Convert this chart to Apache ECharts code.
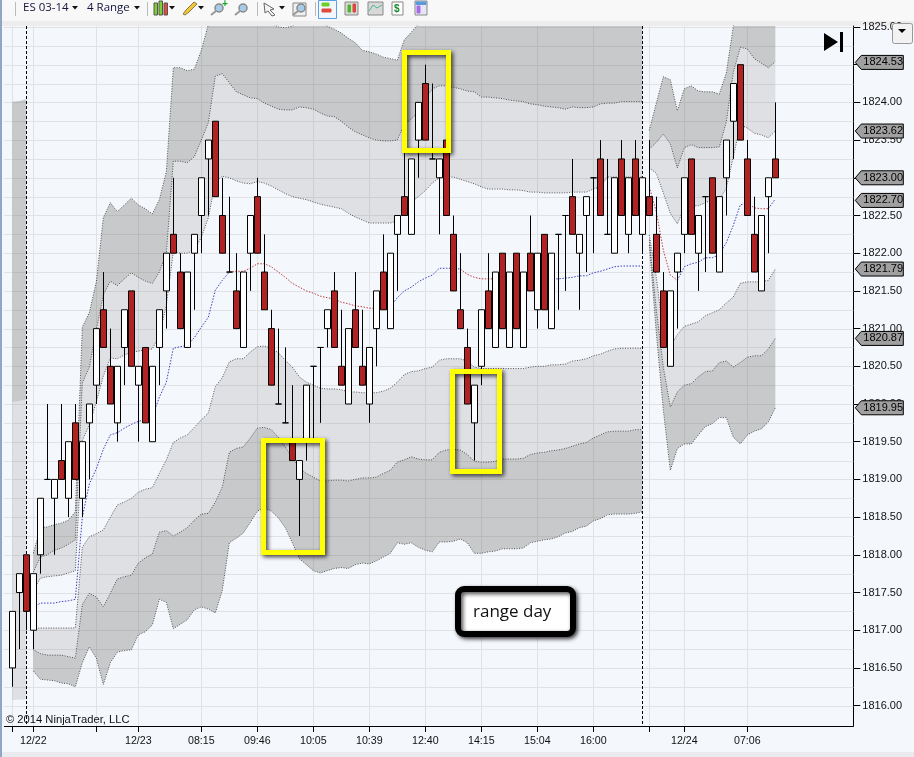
<!DOCTYPE html>
<html>
<head>
<meta charset="utf-8">
<style>html,body{margin:0;padding:0;background:#f4f7fc;overflow:hidden}#c{width:914px;height:757px}</style>
<script src="https://cdn.jsdelivr.net/npm/echarts@6/dist/echarts.min.js"></script>
</head>
<body>
<div id="c"></div>
<script>
// Candles, index = bar number
const opens = [1816.5,1817.5,1818,1817,1818,1819,1818.75,1819.25,1818.75,1819.75,
1818.75,1819.75,1820.25,1821.25,1820.5,1819.75,1820.75,1821.5,1820.25,1820.75,
1819.5,1820.75,1821.5,1822.25,1821.75,1820.75,1822,1822.5,1823.25,1823.75,
1822.5,1821.75,1821.5,1820.75,1822,1822.75,1821.75,1821,1820,1819.75,
1819.5,1819,1819.5,1820.5,1820.75,1821,1821.5,1820.5,1820,1821.25,
1820.5,1820,1821,1821.75,1821,1822.25,1822.75,1822.25,1823.5,1824.25,
1823.25,1823,1823.5,1822.25,1821.25,1820.75,1819.75,1820.5,1821.5,1820.75,
1822,1820.75,1822,1820.75,1822,1821.25,1822.25,1821,1822.25,1822.5,
1822.75,1822,1822.5,1823,1823.25,1822.25,1822,1823.25,1822.25,1823.25,
1822.25,1822.75,1822.25,1821.5,1820.5,1821.75,1822.25,1823.25,1822,1822.75,
1823,1821.75,1823,1823.75,1824.5,1823.25,1822.25,1821.5,1822.75,1823.25];
const closes = [1817.25,1817.75,1817.25,1817.75,1818.75,1819,1819,1819,1819.5,1819,
1819.5,1820,1821,1820.75,1820,1820.5,1821.25,1820.5,1820.5,1819.75,
1820.5,1821.25,1822,1822,1821,1821.75,1822.25,1823,1823.5,1822.75,
1822,1821.75,1821,1821.75,1822.5,1822,1821.25,1820.25,1820,1819.75,
1819.25,1819.25,1820.25,1820.5,1820.75,1821.25,1820.75,1820.25,1821,1820.75,
1820.25,1820.75,1821.5,1821.25,1822,1822.5,1822.5,1823.25,1824,1823.5,
1823.25,1823.25,1822.5,1821.5,1821,1820,1820.25,1821.25,1821,1821.75,
1821,1821.75,1821,1821.75,1821.5,1822,1821.25,1822,1822.25,1822.5,
1822.25,1822.25,1822.75,1823,1822.5,1822.25,1823,1822.5,1823,1822.5,
1823,1822.5,1821.75,1820.75,1821.5,1822,1823,1822.25,1822.5,1822.75,
1822,1822.75,1823.5,1824.25,1823.5,1822.5,1821.75,1822.5,1823,1823];
const lows = [1816.25,1816.75,1817,1816.75,1817.75,1819,1818,1819,1818.5,1819,
1818.5,1819,1820,1820.75,1820,1819.5,1820.25,1820.5,1819.5,1819.75,
1819.5,1820.25,1821,1822,1821,1820.75,1821.25,1822,1822.5,1822.75,
1822,1821.75,1821,1820.75,1821.5,1822,1821.25,1820.25,1820,1819.75,
1819.25,1818.25,1819.25,1819.5,1819.75,1820.75,1820.75,1820.25,1820,1820.75,
1820.25,1819.75,1820.5,1821.25,1821,1821.5,1822.5,1822.25,1823,1823.5,
1823.25,1822.25,1822.5,1821.5,1821,1820,1819.25,1820.25,1821,1820.75,
1821,1820.75,1821,1820.75,1821.5,1821,1821.25,1821,1821.25,1821.5,
1822.25,1821.25,1821.75,1822,1822.5,1822.25,1822,1822.5,1822,1822.5,
1822,1822.5,1821.75,1820.75,1820.5,1821,1822,1822.25,1821.5,1821.75,
1822,1821.75,1822.5,1823.25,1823.5,1822.5,1821.75,1821.5,1822,1823];
const highs = [1817.25,1817.75,1818,1817.75,1818.75,1820,1819,1820,1819.5,1820,
1819.5,1820,1821,1821.75,1821,1820.5,1821.25,1821.5,1820.5,1820.75,
1820.5,1821.25,1822,1823,1822,1821.75,1822.25,1823,1823.5,1823.75,
1823,1822.75,1822,1821.75,1822.5,1823,1822.25,1821.25,1821,1820.75,
1820.25,1819.25,1820.25,1820.5,1820.75,1821.25,1821.75,1821.25,1821,1821.75,
1821.25,1820.75,1821.5,1822.25,1822,1822.5,1823.5,1823.25,1824,1824.5,
1824.25,1823.25,1823.5,1822.5,1822,1821,1820.25,1821.25,1822,1821.75,
1822,1821.75,1822,1821.75,1822.5,1822,1822.25,1822,1822.25,1822.5,
1823.25,1822.25,1822.75,1823,1823.5,1823.25,1823,1823.5,1823,1823.5,
1823,1823.5,1822.75,1821.75,1821.5,1822,1823,1823.25,1822.5,1822.75,
1823,1822.75,1823.5,1824.25,1824.5,1823.5,1822.75,1822.5,1823,1824];

// Envelope curves, same index. Sessions are bars 0-2, 3-90, 91-109.
const outerTop = [1824.01,1824.02,1824.04,1818.02,1818.36,1818.37,1818.40,1818.42,1818.46,1818.57,
1821.02,1821.21,1821.62,1822.47,1822.67,1822.55,1822.64,1822.73,1822.64,1822.59,
1822.52,1822.71,1823.08,1824.46,1824.46,1824.42,1824.44,1824.69,1825.03,1825.50,
1825.60,1825.55,1825.45,1825.40,1825.35,1825.30,1825.20,1825.05,1825.00,1824.99,
1825.01,1825.08,1825.10,1825.10,1825.08,1825.01,1824.97,1824.92,1824.85,1824.79,
1824.69,1824.67,1824.64,1824.60,1824.58,1824.56,1824.83,1824.93,1825.04,1825.25,
1825.40,1825.50,1825.50,1825.50,1825.48,1825.46,1825.45,1825.42,1825.42,1825.41,
1825.40,1825.39,1825.38,1825.37,1825.35,1825.34,1825.33,1825.32,1825.31,1825.30,
1825.32,1825.31,1825.31,1825.32,1825.35,1825.36,1825.36,1825.38,1825.38,1825.38,
1825.38,1823.63,1823.99,1824.34,1824.30,1823.89,1824.18,1824.22,1824.15,1824.14,
1824.14,1824.11,1824.39,1825.01,1825.30,1825.50,1825.50,1825.40,1825.40,1825.30];
const upperMid = [1820.03,1820.04,1820.06,1817.77,1817.97,1818.00,1818.06,1818.09,1818.14,1818.20,
1820.28,1820.49,1820.98,1821.45,1821.63,1821.57,1821.66,1821.74,1821.68,1821.63,
1821.60,1821.75,1822.00,1823.22,1823.22,1823.20,1823.28,1823.50,1823.73,1824.35,
1824.38,1824.26,1824.14,1824.10,1824.06,1824.05,1823.99,1823.95,1823.91,1823.90,
1823.90,1823.94,1823.93,1823.91,1823.86,1823.82,1823.81,1823.75,1823.67,1823.61,
1823.57,1823.53,1823.50,1823.49,1823.49,1823.50,1823.71,1823.78,1823.87,1824.05,
1824.18,1824.22,1824.22,1824.20,1824.18,1824.15,1824.14,1824.07,1824.07,1824.06,
1824.05,1824.03,1824.02,1824.01,1823.98,1823.97,1823.95,1823.94,1823.93,1823.91,
1823.94,1823.93,1823.93,1823.94,1823.98,1823.99,1823.99,1824.01,1824.01,1824.01,
1824.01,1823.38,1823.47,1823.58,1823.45,1823.13,1823.40,1823.44,1823.40,1823.40,
1823.40,1823.41,1823.74,1824.40,1824.73,1824.71,1824.58,1824.52,1824.46,1824.54];
const upperInner = [1816.07,1816.08,1816.08,1817.53,1817.69,1817.71,1817.72,1817.73,1817.76,1817.79,
1819.52,1819.72,1820.03,1820.37,1820.61,1820.60,1820.65,1820.69,1820.70,1820.72,
1820.73,1820.91,1821.31,1822.02,1822.00,1822.00,1822.04,1822.21,1822.47,1822.95,
1823.02,1823.00,1822.96,1822.93,1822.92,1822.95,1822.93,1822.89,1822.84,1822.79,
1822.75,1822.73,1822.71,1822.68,1822.65,1822.63,1822.61,1822.59,1822.53,1822.48,
1822.44,1822.40,1822.40,1822.40,1822.40,1822.43,1822.56,1822.68,1822.75,1822.83,
1822.93,1823.00,1823.01,1823.01,1822.98,1822.95,1822.92,1822.88,1822.85,1822.85,
1822.85,1822.84,1822.84,1822.83,1822.81,1822.81,1822.80,1822.80,1822.80,1822.80,
1822.81,1822.81,1822.81,1822.85,1822.88,1823.01,1823.01,1823.01,1823.01,1823.01,
1823.01,1823.13,1823.06,1822.80,1822.53,1822.39,1822.60,1822.63,1822.63,1822.67,
1822.71,1822.71,1822.86,1823.28,1823.70,1823.66,1823.59,1823.57,1823.53,1823.62];
const midLine = [null,null,null,1817.30,1817.36,1817.36,1817.36,1817.38,1817.39,1817.41,
1818.50,1818.94,1819.14,1819.40,1819.59,1819.62,1819.68,1819.73,1819.77,1819.79,
1819.83,1820.09,1820.29,1820.74,1820.76,1820.78,1820.88,1821.02,1821.15,1821.51,
1821.64,1821.75,1821.76,1821.76,1821.80,1821.86,1821.86,1821.82,1821.75,1821.68,
1821.60,1821.55,1821.50,1821.47,1821.43,1821.41,1821.39,1821.35,1821.33,1821.30,
1821.29,1821.27,1821.27,1821.29,1821.29,1821.41,1821.50,1821.55,1821.62,1821.67,
1821.71,1821.80,1821.80,1821.80,1821.79,1821.72,1821.68,1821.66,1821.66,1821.66,
1821.66,1821.66,1821.66,1821.66,1821.66,1821.66,1821.66,1821.66,1821.66,1821.67,
1821.68,1821.70,1821.70,1821.74,1821.76,1821.79,1821.82,1821.83,1821.83,1821.83,
1821.83,1822.88,1822.55,1822.04,1821.71,1821.64,1821.82,1821.86,1821.88,1821.94,
1821.94,1821.98,1822.14,1822.37,1822.64,1822.67,1822.60,1822.59,1822.59,1822.72];
const lowerInner = [null,null,null,1817.02,1817.03,1817.03,1817.03,1817.03,1817.03,1817.03,
1818.10,1818.24,1818.28,1818.33,1818.50,1818.66,1818.70,1818.75,1818.83,1818.87,
1818.89,1819.08,1819.26,1819.49,1819.55,1819.59,1819.69,1819.79,1819.88,1820.23,
1820.35,1820.56,1820.60,1820.60,1820.69,1820.76,1820.77,1820.74,1820.68,1820.58,
1820.49,1820.36,1820.29,1820.25,1820.21,1820.20,1820.20,1820.19,1820.16,1820.16,
1820.15,1820.15,1820.15,1820.17,1820.21,1820.29,1820.39,1820.43,1820.44,1820.47,
1820.49,1820.58,1820.60,1820.60,1820.60,1820.57,1820.49,1820.47,1820.47,1820.47,
1820.47,1820.47,1820.47,1820.47,1820.49,1820.50,1820.50,1820.52,1820.52,1820.53,
1820.57,1820.58,1820.60,1820.64,1820.66,1820.70,1820.73,1820.74,1820.74,1820.74,
1820.74,1822.24,1821.68,1820.94,1820.76,1820.92,1821.03,1821.06,1821.09,1821.17,
1821.21,1821.25,1821.34,1821.42,1821.60,1821.62,1821.62,1821.62,1821.64,1821.79];
const lowerMid = [null,null,null,1816.74,1816.69,1816.67,1816.67,1816.67,1816.65,1816.63,
1817.34,1817.49,1817.44,1817.31,1817.49,1817.68,1817.71,1817.73,1817.89,1817.96,
1818.01,1818.30,1818.32,1818.25,1818.30,1818.36,1818.46,1818.54,1818.55,1818.70,
1818.90,1819.36,1819.41,1819.43,1819.55,1819.68,1819.69,1819.66,1819.56,1819.43,
1819.28,1819.15,1819.08,1819.03,1818.98,1818.98,1818.99,1818.99,1818.98,1819.00,
1819.02,1819.02,1819.03,1819.08,1819.12,1819.23,1819.26,1819.30,1819.27,1819.26,
1819.26,1819.36,1819.39,1819.40,1819.39,1819.33,1819.24,1819.23,1819.23,1819.24,
1819.27,1819.27,1819.27,1819.28,1819.33,1819.35,1819.36,1819.38,1819.39,1819.41,
1819.44,1819.47,1819.49,1819.55,1819.59,1819.63,1819.64,1819.64,1819.64,1819.66,
1819.66,1822.18,1821.25,1820.49,1819.96,1820.16,1820.25,1820.27,1820.36,1820.43,
1820.44,1820.55,1820.57,1820.49,1820.55,1820.62,1820.64,1820.64,1820.73,1820.87];
const outerBottom = [null,null,null,1816.46,1816.35,1816.34,1816.33,1816.30,1816.29,1816.25,
1816.57,1816.78,1816.63,1816.28,1816.57,1816.71,1816.73,1816.74,1816.94,1816.98,
1817.07,1817.41,1817.37,1817.02,1817.08,1817.14,1817.27,1817.31,1817.28,1817.23,
1817.53,1818.16,1818.22,1818.29,1818.43,1818.58,1818.62,1818.58,1818.49,1818.36,
1818.16,1817.95,1817.87,1817.79,1817.76,1817.79,1817.82,1817.83,1817.82,1817.87,
1817.89,1817.88,1817.92,1817.97,1818.02,1818.16,1818.14,1818.16,1818.10,1818.06,
1818.04,1818.17,1818.17,1818.18,1818.21,1818.16,1818.02,1818.02,1818.04,1818.05,
1818.08,1818.08,1818.08,1818.09,1818.16,1818.18,1818.20,1818.21,1818.24,1818.29,
1818.31,1818.36,1818.38,1818.45,1818.48,1818.53,1818.54,1818.54,1818.54,1818.55,
1818.57,1822.11,1820.94,1819.92,1819.12,1819.41,1819.47,1819.47,1819.59,1819.70,
1819.74,1819.82,1819.82,1819.56,1819.47,1819.59,1819.64,1819.67,1819.76,1819.95];

const sessions = [[0,2],[3,90],[91,109]];
const midRedRanges = [[31,52],[64,70],[91,95],[105,108]];
const midBlueRanges = [[3,31],[52,64],[70,90],[95,105],[108,109]];
const sessionLineBars = [2,90];

const xTickBars = [0,3,12,18,27,35,43,51,59,67,75,83,91,96,105];
const xTickLabels = ['','12/22','','12/23','08:15','09:46','10:05','10:39','12:40','14:15','15:04','16:00','','12/24','07:06'];
const yTickLabels = [1816,1816.5,1817,1817.5,1818,1818.5,1819,1819.5,1820,1820.5,1821,1821.5,1822,1822.5,1823,1823.5,1824,1824.5,1825];
const yGridLines = [1816,1816.25,1816.5,1816.75,1817,1817.25,1817.5,1817.75,1818,1818.25,1818.5,1818.75,1819,1819.25,1819.5,1819.75,1820,1820.25,1820.5,1820.75,1821,1821.25,1821.5,1821.75,1822,1822.25,1822.5,1822.75,1823,1823.25,1823.5,1823.75,1824,1824.25,1824.5,1824.75,1825];
const tagValues = [1824.53,1823.62,1823.00,1822.70,1821.79,1820.87,1819.95];

const DARK='rgba(81,77,70,0.27)', LIGHT='rgba(82,70,68,0.13)';
const AXFONT='"Liberation Sans",Arial,sans-serif';
const UIFONT='"Open Sans",sans-serif';

function bandSeries(up, low, color){
  return {type:'custom', coordinateSystem:'cartesian2d', clip:true, z:2, silent:true,
    data:sessions.map(s=>[s[0],s[1]]), encode:{x:0,y:-1},
    renderItem(params, api){
      const s=sessions[params.dataIndex], a=[], b=[];
      for(let i=s[0];i<=s[1];i++){
        if(up[i]==null||low[i]==null) continue;
        a.push(api.coord([i,up[i]])); b.push(api.coord([i,low[i]]));
      }
      if(!a.length) return null;
      return {type:'polygon', shape:{points:a.concat(b.reverse())}, style:{fill:color}};
    }};
}
function lineSeries(arr, from, to, color, op, dash){
  const d=[]; for(let i=from;i<=to;i++) if(arr[i]!=null) d.push([i,arr[i]]);
  return {type:'line', data:d, showSymbol:false, symbol:'none', clip:true, z:3, silent:true, animation:false,
    lineStyle:{color, width:1, type:dash, opacity:op}};
}

const series=[];
// Grid
series.push({type:'custom', coordinateSystem:'cartesian2d', z:1, silent:true,
  data:[[0,1820]], encode:{x:0,y:1},
  renderItem(params, api){
    const cs=params.coordSys, ch=[];
    const st={stroke:'#e1e2e5', lineWidth:1};
    yGridLines.forEach(v=>{const y=Math.round(api.coord([0,v])[1])+0.5;
      ch.push({type:'line',shape:{x1:cs.x-5,y1:y,x2:cs.x+cs.width,y2:y},style:st});});
    xTickBars.forEach(b=>{const x=Math.round(api.coord([b,1820])[0])+0.5;
      ch.push({type:'line',shape:{x1:x,y1:cs.y,x2:x,y2:cs.y+cs.height},style:st});});
    return {type:'group',children:ch};
  }});
series.push(bandSeries(outerTop,upperMid,DARK));
series.push(bandSeries(upperMid,upperInner,LIGHT));
series.push(bandSeries(lowerInner,lowerMid,LIGHT));
series.push(bandSeries(lowerMid,outerBottom,DARK));
[outerTop,upperMid,upperInner,lowerInner,lowerMid,outerBottom].forEach(arr=>{
  sessions.slice(1).forEach(s=>series.push(lineSeries(arr,s[0],s[1],'#222',0.75,[1,1.5])));
});
midBlueRanges.forEach(r=>series.push(lineSeries(midLine,r[0],r[1],'#2a2ab8',0.9,[1.5,1.5])));
midRedRanges.forEach(r=>series.push(lineSeries(midLine,r[0],r[1],'#b8282c',0.9,[1.5,1.5])));
// Session separators, behind the candles
series.push({type:'custom', coordinateSystem:'cartesian2d', z:4, silent:true,
  data:sessionLineBars.map(b=>[b,1820]), encode:{x:0,y:1},
  renderItem(params, api){
    const cs=params.coordSys, x=Math.round(api.coord([api.value(0),1820])[0])+0.5;
    return {type:'line',shape:{x1:x,y1:cs.y,x2:x,y2:cs.y+cs.height},style:{stroke:'#000',lineWidth:1,lineDash:[3,2]}};
  }});
// Candles
series.push({type:'candlestick', z:5, silent:true, barWidth:6, clip:false,
  encode:{x:0,y:[1,2,3,4]},
  data:opens.map((o,i)=>[i,o,closes[i],lows[i],highs[i]]),
  itemStyle:{color:'#ffffff',color0:'#b22222',borderColor:'#000',borderColor0:'#000',borderColorDoji:'#000',borderWidth:1}});
// Price tags on the right axis
series.push({type:'custom', coordinateSystem:'cartesian2d', z:8, silent:true, clip:false,
  data:tagValues.map(v=>[0,v]), encode:{x:0,y:1},
  renderItem(params, api){
    const cs=params.coordSys, v=api.value(1), y=api.coord([0,v])[1], x=cs.x+cs.width+2;
    return {type:'group',children:[
      {type:'polygon',shape:{points:[[x,y],[x+6,y-7],[x+48,y-7],[x+48,y+7],[x+6,y+7]]},
        style:{fill:'#a0a0a0',stroke:'#000',lineWidth:1}},
      {type:'text',style:{text:v.toFixed(2),x:x+8,y:y,font:'11px '+AXFONT,fill:'#000',verticalAlign:'middle',align:'left'}}
    ]};
  }});

// Top toolbar drawing helpers
function tri(x,y){return {type:'polygon',shape:{points:[[x-3,y-2],[x+3,y-2],[x,y+1.5]]},style:{fill:'#111'},z:50};}
function bar(x,y,w,h,fill,stroke){return {type:'rect',shape:{x,y,width:w,height:h},style:{fill,stroke:stroke||'#555',lineWidth:1},z:50};}
function glass(x,y){return [{type:'circle',shape:{cx:x,cy:y,r:4},style:{fill:'#a8cbe8',stroke:'#888',lineWidth:1.5},z:50},
  {type:'line',shape:{x1:x-3,y1:y+3,x2:x-8,y2:y+7},style:{stroke:'#999',lineWidth:2},z:50}];}
function vline(x){return {type:'line',shape:{x1:x+.5,y1:2,x2:x+.5,y2:16},style:{stroke:'#bbb',lineWidth:1},z:50};}

const graphics=[
  {type:'rect',shape:{x:0,y:0,width:914,height:21},style:{fill:'#f8f8f8'},z:-1},
  {type:'rect',shape:{x:0,y:21,width:914,height:5},style:{fill:'#ededee'},z:-1},
  {type:'rect',shape:{x:0,y:752,width:914,height:5},style:{fill:'#e9ebee'},z:49},
  {type:'rect',shape:{x:0,y:0,width:2,height:757},style:{fill:'#8fa6c4'},z:49},
  {type:'rect',shape:{x:4,y:726,width:5,height:1},style:{fill:'#000'},z:49},
  vline(15),
  {type:'text',style:{x:23,y:8,text:'ES 03-14',font:'11.5px '+UIFONT,fill:'#14143c',verticalAlign:'middle'},z:50},
  tri(75,8),
  {type:'text',style:{x:87,y:8,text:'4 Range',font:'11.5px '+UIFONT,fill:'#14143c',verticalAlign:'middle'},z:50},
  tri(137,8),
  vline(147),
  bar(154,3,3.5,12,'#7cd02a'),bar(159,1,3.5,14,'#7cd02a'),bar(164,3,3.5,12,'#e84a3a'),tri(172,8),
  {type:'polygon',shape:{points:[[183,14],[186,10],[194,2],[197,4],[189,12],[185,15]]},style:{fill:'#f2c83a',stroke:'#8a7a3a',lineWidth:1},z:50},
  tri(201,8),
  ...glass(219,8),
  {type:'text',style:{x:222,y:4,text:'+',font:'bold 10px sans-serif',fill:'#1aa82a',verticalAlign:'middle'},z:50},
  ...glass(243,8),
  vline(257),
  {type:'polygon',shape:{points:[[264,3],[274,9],[270,10],[275,15],[272,16],[268,11],[265,13]]},style:{fill:'#f4f4f4',stroke:'#666',lineWidth:1},z:50},
  tri(282,8),
  bar(293,3,13,13,'#f0f0f0','#888'),...glass(301,8),
  vline(315),
  {type:'rect',shape:{x:318.5,y:0.5,width:18,height:18},style:{fill:'#f2f7fd',stroke:'#5aa0e8',lineWidth:1},z:50},
  bar(322,3,7,3,'#6ad02a','#6ad02a'),bar(322,9,9,3,'#e04a3a','#e04a3a'),
  bar(345,2,13,13,'#d8d8d8','#888'),bar(348,5,2.5,7,'#4ab82a','#4ab82a'),bar(353,4,2.5,8,'#d84a3a','#d84a3a'),
  bar(368,2,15,13,'#d8d8d8','#888'),
  {type:'polyline',shape:{points:[[369,11],[373,5],[377,8],[382,5]]},style:{stroke:'#4ab88a',fill:'none',lineWidth:1},z:50},
  bar(392,2,11,13,'#ffffff','#888'),
  {type:'text',style:{x:394,y:9,text:'$',font:'bold 10px sans-serif',fill:'#1a8a2a',verticalAlign:'middle'},z:50},
  bar(415,1,12,14,'#e4e8f4','#888'),bar(416,2,10,2.5,'#5a9ad8','#5a9ad8'),bar(417,6,3,7,'#a86ae8','#a86ae8'),
  // play-to-end glyph
  {type:'polygon',shape:{points:[[824,33],[824,51],[838,42]]},style:{fill:'#000'},z:50},
  {type:'rect',shape:{x:840,y:32,width:3,height:20},style:{fill:'#000'},z:50},
  // scroll button
  {type:'rect',shape:{x:892.5,y:23.5,width:20,height:20,r:2},style:{fill:'#f2f2f2',stroke:'#999',lineWidth:1},z:50},
  {type:'polygon',shape:{points:[[898,29],[906,29],[902,33]]},style:{fill:'#000'},z:50},
  // copyright
  {type:'text',style:{x:6,y:720,text:'\u00a9 2014 NinjaTrader, LLC',font:'11.2px '+AXFONT,fill:'#111',verticalAlign:'middle'},z:50},
  // yellow highlight boxes
  {type:'rect',shape:{x:263.5,y:440.5,width:59,height:112},style:{fill:'none',stroke:'#ffff00',lineWidth:5,shadowBlur:4,shadowColor:'rgba(0,0,0,0.75)',shadowOffsetX:2,shadowOffsetY:2},z:40},
  {type:'rect',shape:{x:404.5,y:52.5,width:44,height:98},style:{fill:'none',stroke:'#ffff00',lineWidth:5,shadowBlur:4,shadowColor:'rgba(0,0,0,0.75)',shadowOffsetX:2,shadowOffsetY:2},z:40},
  {type:'rect',shape:{x:452.5,y:371.5,width:47,height:100},style:{fill:'none',stroke:'#ffff00',lineWidth:5,shadowBlur:4,shadowColor:'rgba(0,0,0,0.75)',shadowOffsetX:2,shadowOffsetY:2},z:40},
  // range day callout
  {type:'rect',shape:{x:458,y:589,width:115,height:45,r:6},style:{fill:'#fff',stroke:'#000',lineWidth:6,shadowBlur:4,shadowColor:'rgba(0,0,0,0.7)',shadowOffsetX:2,shadowOffsetY:2},z:41},
  {type:'text',style:{x:473,y:612,text:'range day',font:'17px '+UIFONT,fill:'#111',verticalAlign:'middle'},z:42}
];

const chart=echarts.init(document.getElementById('c'),null,{renderer:'canvas'});
chart.setOption({
  animation:false, backgroundColor:'#f4f7fc',
  grid:{left:8.83,right:60.7,top:26,bottom:31,containLabel:false},
  xAxis:{type:'value',min:-0.5,max:120.14,
    axisLine:{show:true,onZero:false,lineStyle:{color:'#000',width:1}},
    axisTick:{show:true,length:6,customValues:xTickBars,lineStyle:{color:'#000'}},
    axisLabel:{show:true,customValues:xTickBars,margin:10,color:'#111',fontFamily:'Liberation Sans',fontSize:10.67,
      hideOverlap:false,showMinLabel:true,showMaxLabel:true,
      formatter:v=>{const k=xTickBars.indexOf(v);return k<0?'':xTickLabels[k];}},
    splitLine:{show:false}},
  yAxis:{type:'value',position:'right',min:1815.73,max:1825.013,
    axisLine:{show:true,onZero:false,lineStyle:{color:'#000',width:1}},
    axisTick:{show:true,length:7,customValues:yTickLabels,lineStyle:{color:'#000'}},
    axisLabel:{show:true,customValues:yTickLabels,margin:9,color:'#111',fontFamily:'Liberation Sans',fontSize:11,
      padding:[2,0,0,0],formatter:v=>v.toFixed(2)},
    splitLine:{show:false}},
  tooltip:{show:false},
  graphic:{elements:graphics},
  series
});
</script>
</body>
</html>
